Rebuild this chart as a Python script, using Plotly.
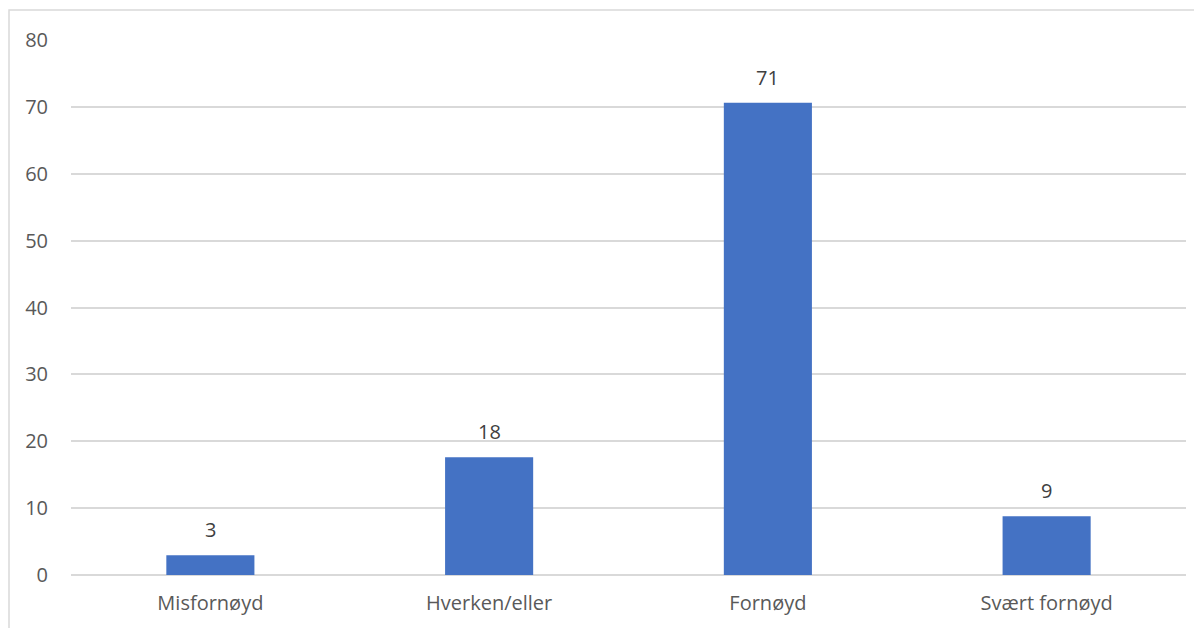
import plotly.graph_objects as go

categories = ["Misfornøyd", "Hverken/eller", "Fornøyd", "Svært fornøyd"]
values = [2.95, 17.6, 70.6, 8.8]
labels = ["3", "18", "71", "9"]
y_ticks = [0, 10, 20, 30, 40, 50, 60, 70, 80]

font_family = "'Open Sans', sans-serif"

fig = go.Figure(
    go.Bar(
        x=categories,
        y=values,
        marker=dict(color="#4472C4", line=dict(width=0)),
        hoverinfo="x+y",
    )
)

annotations = [
    dict(
        x=c, y=v, text=t, xref="x", yref="y",
        showarrow=False, yanchor="bottom", yshift=10,
        font=dict(size=20, color="#404040", family=font_family),
    )
    for c, v, t in zip(categories, values, labels)
]

fig.update_layout(
    width=1202,
    height=628,
    margin=dict(l=63, r=24, t=32, b=61),
    plot_bgcolor="white",
    paper_bgcolor="white",
    bargap=0.684,
    showlegend=False,
    font=dict(family=font_family, size=20, color="#595959"),
    annotations=annotations,
    shapes=[
        dict(
            type="rect", xref="paper", yref="paper",
            x0=-0.0556, x1=1.2, y0=-0.3, y1=1.056,
            line=dict(color="#d9d9d9", width=1.5),
            fillcolor="rgba(0,0,0,0)", layer="below",
        )
    ],
)

fig.update_yaxes(
    range=[0, 80],
    tickvals=y_ticks,
    showgrid=True,
    gridcolor="#d9d9d9",
    gridwidth=1.5,
    zeroline=True,
    zerolinecolor="#d9d9d9",
    zerolinewidth=1.5,
    showline=False,
    ticks="",
    ticklabelstandoff=22,
    tickfont=dict(size=20, color="#595959", family=font_family),
)
fig.update_xaxes(
    showline=False,
    ticks="",
    tickfont=dict(size=20, color="#595959", family=font_family),
    ticklabelstandoff=14,
)

fig.write_html("out.html")
